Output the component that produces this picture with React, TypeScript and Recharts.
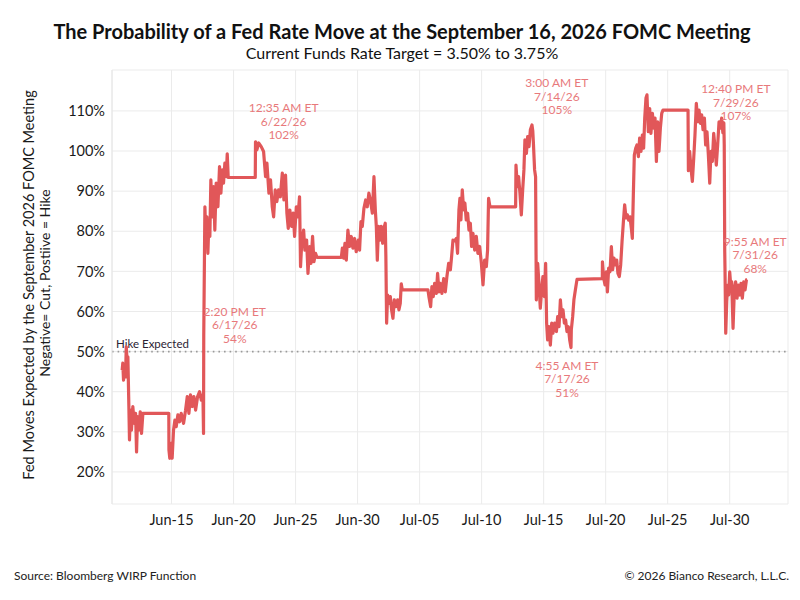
import React from 'react';
import { LineChart, Line, XAxis, YAxis, CartesianGrid, ReferenceLine, ReferenceDot } from 'recharts';

// day numbers: June d = d, July d = 30 + d
const segJunA: number[][] = [
  [11.02, 45.4], [11.07, 47.1], [11.13, 42.9], [11.21, 46.2], [11.29, 43.7], [11.35, 51.2], [11.43, 47.1], [11.48, 48.7],
  [11.56, 36.3], [11.61, 28.0], [11.69, 35.4], [11.77, 30.4], [11.88, 36.3], [11.99, 32.1], [12.1, 34.6], [12.18, 25.0],
  [12.26, 33.8], [12.36, 30.4], [12.48, 35.0], [12.58, 29.6], [12.69, 34.6], [14.78, 34.6], [14.79, 25.5], [14.86, 23.4],
  [14.97, 27.1], [15.05, 23.4], [15.16, 30.4], [15.27, 32.9], [15.38, 31.3], [15.51, 34.2], [15.65, 32.5], [15.78, 34.6],
  [15.97, 32.1], [16.13, 35.4], [16.27, 38.8], [16.4, 34.6], [16.53, 39.2], [16.67, 36.3], [16.8, 38.8], [16.94, 35.4],
  [17.1, 38.8], [17.26, 40.0], [17.4, 37.9], [17.53, 39.2], [17.58, 29.6],
];

const segJunB: number[][] = [
  [17.597, 54.0], [17.69, 86.1], [17.77, 77.8], [17.85, 83.6], [17.93, 74.5], [18.01, 82.0], [18.09, 78.7], [18.17, 92.8],
  [18.28, 83.6], [18.39, 91.1], [18.49, 80.3], [18.6, 92.0], [18.74, 86.1], [18.87, 96.1], [18.98, 89.5], [19.09, 95.3],
  [19.19, 92.0], [19.3, 97.0], [19.41, 93.6], [19.49, 99.3], [19.57, 93.4], [21.75, 93.4], [21.77, 102.3], [21.88, 100.3],
  [22.024, 102.0], [22.23, 101.1], [22.42, 99.9], [22.58, 93.6], [22.69, 97.0], [22.85, 89.5], [22.98, 92.8], [23.12, 86.1],
  [23.23, 83.6], [23.36, 90.3], [23.49, 87.4], [23.63, 90.3], [23.77, 88.6], [23.93, 94.5], [24.06, 87.8], [24.19, 94.0],
  [24.3, 84.5], [24.41, 80.7], [24.54, 85.3], [24.68, 81.2], [24.81, 84.5], [24.92, 78.7], [25.06, 86.1], [25.19, 83.6],
  [25.32, 88.6], [25.4, 71.2], [25.51, 77.8], [25.65, 80.3], [25.75, 75.3], [25.89, 77.8], [26.0, 69.5], [26.13, 76.2],
  [26.24, 72.0], [26.37, 78.7], [26.48, 72.4], [26.61, 74.5], [26.72, 73.5], [28.69, 73.5],
];

const segJunJul: number[][] = [
  [28.77, 75.8], [28.87, 73.3], [28.98, 77.0], [29.09, 72.8], [29.22, 80.3], [29.35, 76.2], [29.49, 78.7], [29.62, 75.8],
  [29.76, 78.2], [29.89, 74.9], [30.06, 77.8], [30.16, 75.3], [30.27, 82.4], [30.38, 81.2], [30.51, 85.7], [30.65, 87.8],
  [30.78, 86.1], [30.91, 89.5], [31.05, 87.4], [31.19, 84.5], [31.32, 93.6], [31.43, 85.3], [31.51, 81.2], [31.59, 72.8],
  [31.69, 81.2], [31.8, 77.8], [31.91, 81.2], [32.02, 77.0], [32.12, 80.7], [32.23, 82.0], [32.28, 73.7], [32.34, 57.1],
  [32.42, 64.1], [32.52, 62.0], [32.64, 63.7], [32.74, 60.4], [32.85, 58.3], [32.96, 62.9], [33.09, 61.2], [33.23, 62.9],
  [33.33, 60.4], [33.44, 62.0], [33.52, 66.9], [33.6, 65.4], [35.67, 65.4],
];

const segJulA: number[][] = [
  [35.75, 63.7], [35.89, 61.2], [35.99, 66.2], [36.1, 63.7], [36.21, 67.0], [36.35, 64.5], [36.45, 69.5], [36.56, 64.9],
  [36.67, 67.0], [36.8, 64.5], [36.94, 68.2], [37.07, 64.9], [37.2, 68.7], [37.34, 72.0], [37.48, 70.4], [37.58, 73.7],
  [37.69, 77.8], [37.82, 77.6], [37.96, 78.2], [38.06, 74.5], [38.17, 85.3], [38.25, 88.2], [38.33, 82.8], [38.44, 90.3],
  [38.55, 85.3], [38.65, 87.0], [38.76, 82.8], [38.87, 84.5], [38.98, 80.3], [39.09, 82.0], [39.19, 76.2], [39.3, 79.5],
  [39.44, 75.3], [39.57, 78.7], [39.7, 74.5], [39.84, 76.2], [39.98, 72.0], [40.11, 66.6], [40.24, 72.8], [40.38, 71.2],
  [40.48, 75.3], [40.56, 88.2], [40.67, 86.1], [42.74, 86.1],
];

const segJulB: number[][] = [
  [42.77, 96.5], [42.88, 91.1], [42.98, 93.6], [43.09, 89.5], [43.2, 84.1], [43.31, 90.3], [43.41, 95.3], [43.49, 102.8],
  [43.61, 99.4], [43.71, 103.6], [43.82, 101.1], [43.93, 105.3], [44.06, 106.5], [44.125, 105.0], [44.17, 102.3], [44.27, 95.3],
  [44.35, 93.6], [44.41, 62.9], [44.52, 72.0], [44.62, 67.0], [44.73, 60.8], [44.84, 65.4], [44.94, 68.7], [45.06, 63.7],
  [45.16, 72.0], [45.24, 57.1], [45.32, 52.9], [45.43, 56.2], [45.54, 51.6], [45.65, 57.1], [45.75, 54.6], [45.89, 57.1],
  [46.03, 55.0], [46.13, 58.7], [46.24, 56.2], [46.35, 62.9], [46.45, 58.7], [46.56, 60.4], [46.67, 57.1], [46.77, 57.9],
  [46.88, 55.0], [46.99, 56.2], [47.1, 52.9], [47.205, 51.0], [47.23, 55.4], [47.34, 58.7], [47.44, 62.9], [47.56, 65.4],
  [47.69, 68.0], [49.73, 68.2],
];

const segJulC: number[][] = [
  [49.74, 72.4], [49.84, 68.3], [49.95, 66.6], [50.06, 69.9], [50.14, 64.9], [50.24, 70.8], [50.35, 69.9], [50.46, 76.2],
  [50.56, 70.4], [50.67, 73.3], [50.78, 71.6], [50.89, 72.8], [50.99, 69.5], [51.1, 68.7], [51.21, 71.6], [51.32, 77.4],
  [51.43, 82.4], [51.53, 86.6], [51.64, 83.3], [51.75, 84.1], [51.85, 82.8], [51.96, 83.6], [52.07, 80.7], [52.15, 78.2],
  [52.23, 89.0], [52.31, 99.0], [52.42, 100.7], [52.52, 101.5], [52.64, 98.6], [52.74, 103.2], [52.85, 99.9], [52.96, 104.0],
  [53.06, 100.7], [53.15, 108.2], [53.25, 113.2], [53.33, 114.0], [53.44, 104.8], [53.55, 110.6], [53.65, 104.4], [53.77, 109.4],
  [53.87, 105.7], [53.98, 108.2], [54.09, 97.4], [54.19, 107.3], [54.3, 99.9], [54.41, 105.7], [54.52, 109.4], [54.62, 110.2],
  [56.64, 110.2],
];

const segJulD: number[][] = [
  [56.67, 95.1], [56.77, 99.9], [56.88, 95.7], [56.99, 92.4], [57.1, 98.2], [57.2, 104.0], [57.31, 111.9], [57.42, 107.3],
  [57.53, 110.2], [57.64, 106.9], [57.74, 109.0], [57.85, 105.3], [57.96, 108.2], [58.06, 101.5], [58.17, 104.8], [58.28, 99.0],
  [58.39, 92.0], [58.49, 99.9], [58.6, 97.4], [58.71, 104.4], [58.82, 100.7], [58.92, 96.5], [59.03, 101.5], [59.14, 107.3],
  [59.25, 105.7], [59.35, 108.2], [59.45, 104.5], [59.528, 107.0], [59.56, 101.5], [59.6, 74.9], [59.62, 70.8], [59.68, 54.6],
  [59.76, 62.5], [59.84, 66.6], [59.92, 64.1], [60.0, 69.9], [60.08, 66.6], [60.16, 67.4], [60.27, 55.8], [60.38, 65.8],
  [60.48, 67.4], [60.59, 63.3], [60.7, 66.6], [60.81, 64.1], [60.91, 67.0], [61.02, 63.3], [61.13, 67.4], [61.24, 65.4],
  [61.35, 67.9], [61.413, 68.0],
];

const majorTickDays = [15, 20, 25, 30, 35, 40, 45, 50, 55, 60];
const majorTickLabels = ['Jun-15', 'Jun-20', 'Jun-25', 'Jun-30', 'Jul-05', 'Jul-10', 'Jul-15', 'Jul-20', 'Jul-25', 'Jul-30'];
const minorTickDays = [
  11, 12, 13, 14, 15, 16, 17, 18, 19, 20, 21, 22, 23, 24, 25, 26, 27, 28, 29, 30, 31, 32, 33, 34, 35, 36, 37,
  38, 39, 40, 41, 42, 43, 44, 45, 46, 47, 48, 49, 50, 51, 52, 53, 54, 55, 56, 57, 58, 59, 60, 61, 62, 63, 64,
];
const yTicks = [20, 30, 40, 50, 60, 70, 80, 90, 100, 110];
const hikeLevel = 50;

const annotDays = [17.597, 22.024, 44.125, 47.205, 59.528, 61.413];
const annotValues = [54, 102, 105, 51, 107, 68];
const annotTimes = ['2:20 PM ET', '12:35 AM ET', '3:00 AM ET', '4:55 AM ET', '12:40 PM ET', '9:55 AM ET'];
const annotDates = ['6/17/26', '6/22/26', '7/14/26', '7/17/26', '7/29/26', '7/31/26'];

// layout: offset (px) of text centre from the annotated point, first line
const annotOffsets = [[31, -24], [25, -35], [24, -48], [-4, 18], [12, -34], [8, -38]];

const data = [...segJunA, ...segJunB, ...segJunJul, ...segJulA, ...segJulB, ...segJulC, ...segJulD].map(([d, v]) => ({ d, v }));

const RED = '#E15759';
const ANNOT = '#E8797B';
const FONT = 'Lato, "Noto Sans", sans-serif';

const labelFor = (d: number) => {
  const i = majorTickDays.indexOf(d);
  return i >= 0 ? majorTickLabels[i] : '';
};

export default function App() {
  return (
    <div style={{ position: 'absolute', left: 0, top: 0, width: 800, height: 600, background: '#fff', fontFamily: FONT }}>
      <LineChart width={800} height={600} data={data} margin={{ top: 70, right: 12, bottom: 56, left: 0 }}>
        <CartesianGrid xAxisId="major" stroke="#ebebeb" strokeWidth={1} />
        <XAxis
          xAxisId="minor"
          dataKey="d"
          type="number"
          domain={[10.2, 64.7]}
          allowDataOverflow
          ticks={minorTickDays}
          interval={0}
          height={0}
          tickSize={4}
          tickLine={{ stroke: '#cfcfcf' }}
          axisLine={{ stroke: '#e6e6e6' }}
          tickFormatter={() => ''}
        />
        <XAxis
          xAxisId="major"
          dataKey="d"
          type="number"
          domain={[10.2, 64.7]}
          allowDataOverflow
          ticks={majorTickDays}
          interval={0}
          height={40}
          tickSize={0}
          tickMargin={11}
          axisLine={false}
          tickLine={false}
          tickFormatter={labelFor}
          tick={{ fill: '#1a1a1a', fontSize: 14.5, fontFamily: FONT }}
        />
        <YAxis
          type="number"
          domain={[12, 120.2]}
          allowDataOverflow
          ticks={yTicks}
          interval={0}
          width={112}
          tickSize={0}
          tickMargin={7}
          tickLine={false}
          axisLine={{ stroke: '#e6e6e6' }}
          tickFormatter={(v: number) => `${v}%`}
          tick={{ fill: '#1a1a1a', fontSize: 14.5, fontFamily: FONT }}
        />
        <ReferenceLine
          xAxisId="major"
          y={hikeLevel}
          stroke="#9a9a9a"
          strokeWidth={1.6}
          strokeDasharray="1.6 4"
          label={(p: any) => (
            <text x={p.viewBox.x + 4} y={p.viewBox.y - 3.5} fontSize={11.5} fill="#2a2233" fontFamily={FONT}>
              Hike Expected
            </text>
          )}
        />
        <Line
          xAxisId="major"
          type="linear"
          dataKey="v"
          stroke={RED}
          strokeWidth={3.2}
          strokeLinejoin="round"
          dot={false}
          activeDot={false}
          isAnimationActive={false}
        />
        {annotDays.map((d, i) => (
          <ReferenceDot
            key={i}
            xAxisId="major"
            x={d}
            y={annotValues[i]}
            r={0}
            shape={(p: any) => {
              const cx = p.cx + annotOffsets[i][0];
              const cy = p.cy + annotOffsets[i][1];
              return (
                <g fontFamily={FONT} fontSize={12} fill={ANNOT} textAnchor="middle">
                  <text x={cx} y={cy + 4.3}>{annotTimes[i]}</text>
                  <text x={cx} y={cy + 4.3 + 13.5}>{annotDates[i]}</text>
                  <text x={cx} y={cy + 4.3 + 27}>{`${annotValues[i]}%`}</text>
                </g>
              );
            }}
          />
        ))}
      </LineChart>
      <svg width={800} height={600} style={{ position: 'absolute', left: 0, top: 0, pointerEvents: 'none' }} fontFamily={FONT}>
        <text x={402} y={38.5} textAnchor="middle" fontSize={20} fontWeight={700} fill="#111">
          The Probability of a Fed Rate Move at the September 16, 2026 FOMC Meeting
        </text>
        <text x={402} y={58.5} textAnchor="middle" fontSize={16} fill="#111">
          Current Funds Rate Target = 3.50% to 3.75%
        </text>
        <text transform="translate(34,285) rotate(-90)" textAnchor="middle" fontSize={14.5} fill="#1a1a1a">
          Fed Moves Expected by the  September 2026 FOMC Meeting
        </text>
        <text transform="translate(50,283) rotate(-90)" textAnchor="middle" fontSize={14} fill="#1a1a1a">
          Negative= Cut, Postiive = Hike
        </text>
        <text x={14} y={580} fontSize={12} fill="#222">Source: Bloomberg WIRP Function</text>
        <text x={789} y={580} fontSize={12} fill="#222" textAnchor="end">© 2026 Bianco Research, L.L.C.</text>
      </svg>
    </div>
  );
}
